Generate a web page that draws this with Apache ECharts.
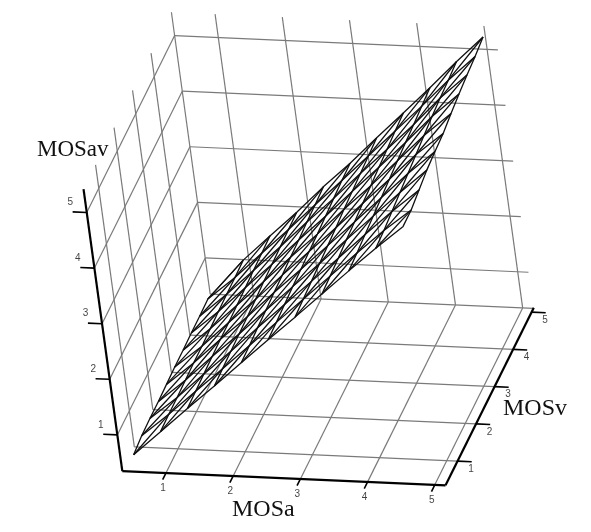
<!DOCTYPE html>
<html>
<head>
<meta charset="utf-8">
<title>MOSav</title>
<script src="https://cdn.jsdelivr.net/npm/echarts@6/dist/echarts.min.js"></script>
<style>
  html, body { margin: 0; padding: 0; background: #fff; }
  #chart { width: 591px; height: 532px; }
</style>
</head>
<body>
<div id="chart"></div>
<script>
// tick values on the three axes
var aTicks = [1, 2, 3, 4, 5];
var vTicks = [1, 2, 3, 4, 5];
var zTicks = [1, 2, 3, 4, 5];

// box limits of the plot
var aRange = [0.35, 5.16];
var vRange = [0.35, 5.1];
var zRange = [0.35, 5.42];

// sample positions of the surface
var aSamples = [0.5, 0.95, 1.4, 1.85, 2.3, 2.75, 3.2, 3.65, 4.1, 4.55, 5];
var vSamples = [0.5, 0.95, 1.4, 1.85, 2.3, 2.75, 3.2, 3.65, 4.1, 4.55, 5];

// MOSav, one row per aSamples entry, columns follow vSamples
var mosav = [
  [0.55, 0.59, 0.60, 0.60, 0.61, 0.62, 0.62, 0.63, 0.63, 0.64, 0.52],
  [0.99, 1.00, 1.00, 1.01, 1.02, 1.02, 1.03, 1.04, 1.05, 1.05, 1.06],
  [1.43, 1.44, 1.45, 1.46, 1.47, 1.47, 1.48, 1.49, 1.50, 1.51, 1.52],
  [1.86, 1.87, 1.88, 1.89, 1.90, 1.91, 1.93, 1.94, 1.95, 1.96, 1.97],
  [2.30, 2.31, 2.33, 2.34, 2.36, 2.37, 2.39, 2.40, 2.42, 2.43, 2.45],
  [2.74, 2.75, 2.77, 2.79, 2.80, 2.82, 2.83, 2.85, 2.87, 2.89, 2.90],
  [3.17, 3.19, 3.21, 3.23, 3.25, 3.27, 3.30, 3.32, 3.34, 3.36, 3.38],
  [3.61, 3.63, 3.65, 3.68, 3.70, 3.73, 3.75, 3.78, 3.80, 3.83, 3.85],
  [4.05, 4.07, 4.10, 4.13, 4.16, 4.19, 4.22, 4.25, 4.27, 4.30, 4.33],
  [4.48, 4.50, 4.54, 4.58, 4.62, 4.66, 4.70, 4.74, 4.77, 4.79, 4.82],
  [4.89, 4.89, 4.95, 5.01, 5.04, 5.06, 5.12, 5.17, 5.21, 5.24, 5.29]
];

// parallel projection of the 3d box onto the hidden x/y axes
function project(a, v, z) {
  return [
    95 + 67.2 * a + 18.5 * v - 7.65 * z,
    502.5 + 2.97 * a - 37.25 * v - 55.6 * z
  ];
}

function lineSeries(from, to, color, width) {
  return {
    type: 'line',
    silent: true,
    animation: false,
    symbol: 'none',
    data: [project.apply(null, from), project.apply(null, to)],
    lineStyle: { color: color, width: width }
  };
}

function meshSeries(nodes) {
  return {
    type: 'line',
    silent: true,
    animation: false,
    symbol: 'none',
    data: nodes.map(function (n) {
      return project(aSamples[n[0]], vSamples[n[1]], mosav[n[0]][n[1]]);
    }),
    lineStyle: { color: '#111', width: 1.3 }
  };
}

function labelSeries(points, texts, offset) {
  return {
    type: 'scatter',
    silent: true,
    animation: false,
    symbolSize: 0,
    data: points.map(function (p, i) {
      return { value: p, label: { formatter: String(texts[i]) } };
    }),
    label: {
      show: true,
      position: 'inside',
      offset: offset,
      color: '#111',
      fontSize: 10,
      fontWeight: 500,
      fontFamily: 'Liberation Sans'
    }
  };
}

var gridColor = '#7a7a7a';
var series = [];

// left wall, back wall and floor grid
vTicks.slice(0, 4).forEach(function (v) {
  series.push(lineSeries([aRange[0], v, zRange[0]], [aRange[0], v, zRange[1]], gridColor, 1.2));
  series.push(lineSeries([aRange[0], v, zRange[0]], [aRange[1], v, zRange[0]], gridColor, 1.2));
});
series.push(lineSeries([aRange[0], vRange[1], zRange[0]], [aRange[0], vRange[1], zRange[1]], gridColor, 1.2));
series.push(lineSeries([aRange[0], vRange[1], zRange[0]], [aRange[1], vRange[1], zRange[0]], gridColor, 1.2));
aTicks.forEach(function (a) {
  series.push(lineSeries([a, vRange[0], zRange[0]], [a, vRange[1], zRange[0]], gridColor, 1.2));
  series.push(lineSeries([a, vRange[1], zRange[0]], [a, vRange[1], zRange[1]], gridColor, 1.2));
});
zTicks.forEach(function (z) {
  series.push(lineSeries([aRange[0], vRange[0], z], [aRange[0], vRange[1], z], gridColor, 1.2));
  series.push(lineSeries([aRange[0], vRange[1], z], [aRange[1], vRange[1], z], gridColor, 1.2));
});

// surface mesh: rows, columns and the diagonal of every cell
var n = aSamples.length;
for (var i = 0; i < n; i++) {
  var row = [], col = [], diagUp = [], diagDown = [];
  for (var j = 0; j < n; j++) {
    row.push([i, j]);
    col.push([j, i]);
    if (i + j < n) {
      diagUp.push([i + j, j]);
      diagDown.push([j, i + j]);
    }
  }
  series.push(meshSeries(row));
  series.push(meshSeries(col));
  if (diagUp.length > 1) {
    series.push(meshSeries(diagUp));
    if (i > 0) series.push(meshSeries(diagDown));
  }
}

// heavy axes
series.push(lineSeries([aRange[0], vRange[0], zRange[0]], [aRange[1], vRange[0], zRange[0]], '#000', 2.2));
series.push(lineSeries([aRange[1], vRange[0], zRange[0]], [aRange[1], 5.12, zRange[0]], '#000', 2.2));
series.push(lineSeries([aRange[0], vRange[0], zRange[0]], [aRange[0], vRange[0], zRange[1]], '#000', 2.2));

// tick marks, the z and v ones run along the MOSa direction
aTicks.forEach(function (a) {
  series.push(lineSeries([a, vRange[0], zRange[0]], [a, 0.17, zRange[0]], '#000', 1.6));
});
vTicks.forEach(function (v) {
  series.push(lineSeries([aRange[1], v, zRange[0]], [aRange[1] + 0.21, v, zRange[0]], '#000', 1.6));
});
zTicks.forEach(function (z) {
  series.push(lineSeries([aRange[0], vRange[0], z], [aRange[0] - 0.21, vRange[0], z], '#000', 1.6));
});

// tick labels
series.push(labelSeries(aTicks.map(function (a) { return project(a, vRange[0], zRange[0]); }), aTicks, [-3, 15]));
series.push(labelSeries(vTicks.map(function (v) { return project(aRange[1], v, zRange[0]); }), vTicks, [13.5, 8]));
series.push(labelSeries(zTicks.map(function (z) { return project(aRange[0], vRange[0], z); }), zTicks, [-16.5, -10]));

function axisTitle(text, left, top, size) {
  return {
    text: text,
    left: left,
    top: top,
    padding: 0,
    textStyle: { fontFamily: 'Liberation Serif', fontSize: size, fontWeight: 'normal', color: '#111' }
  };
}

var chart = echarts.init(document.getElementById('chart'), null, { renderer: 'canvas' });
chart.setOption({
  animation: false,
  backgroundColor: '#fff',
  title: [
    axisTitle('MOSav', 37, 138, 23),
    axisTitle('MOSa', 232, 498, 24),
    axisTitle('MOSv', 503, 397, 24)
  ],
  grid: { left: 0, right: 0, top: 0, bottom: 0 },
  xAxis: { type: 'value', min: 0, max: 591, show: false },
  yAxis: { type: 'value', min: 0, max: 532, inverse: true, show: false },
  series: series
});
</script>
</body>
</html>
